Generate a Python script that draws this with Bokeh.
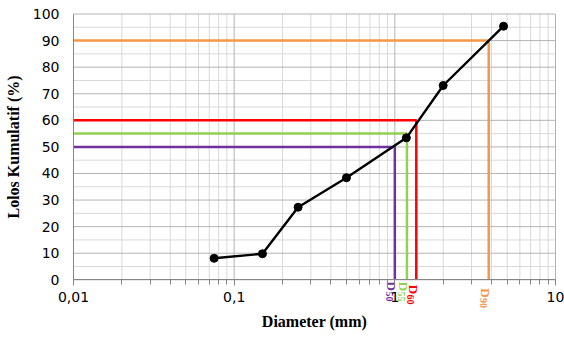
import math
from bokeh.plotting import figure
from bokeh.models import FixedTicker, Range1d
from bokeh.embed import file_html
from bokeh.resources import INLINE

# ---- data ----
diameter_mm = [0.075, 0.15, 0.25, 0.5, 1.18, 2.0, 4.75]
passing_pct = [8.1, 9.8, 27.3, 38.4, 53.4, 73.1, 95.4]

d_names = ["D", "D", "D", "D"]
d_subs = ["50", "55", "60", "90"]
d_pct = [50, 55, 60, 90]
d_mm = [1.0, 1.19, 1.36, 3.84]
d_colors = ["#7030A0", "#92D050", "#FF0000", "#F79646"]

x_ticks = [0.01, 0.1, 1, 10]
x_tick_labels = ["0,01", "0,1", "1", "10"]
y_ticks = list(range(0, 101, 10))

x_minor = [m * 10.0 ** e for e in (-2, -1, 0) for m in range(2, 10)]
y_minor = [v + 5 for v in range(0, 100, 10)]

# ---- layout (pixels) ----
W, H = 564, 340
PL, PR, PT, PB = 73, 555, 13.5, 279.3   # where the plot box corners sit

x_lo, x_hi = x_ticks[0], x_ticks[-1]
y_lo, y_hi = y_ticks[0], y_ticks[-1]
dec_px = (PR - PL) / (math.log10(x_hi) - math.log10(x_lo))
unit_px = (PB - PT) / (y_hi - y_lo)
x_start = 10 ** (math.log10(x_lo) - PL / dec_px)
x_end = 10 ** (math.log10(x_hi) + (W - PR) / dec_px)
y_end = y_hi + PT / unit_px
y_start = y_lo - (H - PB) / unit_px

# the frame spans the whole canvas, so text below the axis is not clipped
p = figure(width=W, height=H, x_axis_type="log",
           x_range=Range1d(x_start, x_end), y_range=Range1d(y_start, y_end),
           output_backend="svg", toolbar_location=None,
           min_border_left=0, min_border_right=0, min_border_top=0,
           min_border_bottom=0)
p.title.visible = False
p.background_fill_color = "white"
p.border_fill_color = "white"
p.outline_line_color = None
p.xgrid.visible = False
p.ygrid.visible = False

tick_font = "DejaVu Sans"

xa, ya = p.xaxis[0], p.yaxis[0]
xa.ticker = FixedTicker(ticks=x_ticks, minor_ticks=x_minor)
xa.major_label_overrides = {t: l for t, l in zip(x_ticks, x_tick_labels)}
ya.ticker = FixedTicker(ticks=y_ticks, minor_ticks=y_minor)
xa.fixed_location = y_lo
ya.fixed_location = x_lo
xa.bounds = (x_lo, x_hi)
ya.bounds = (y_lo, y_hi)

for ax in (xa, ya):
    ax.axis_line_color = "#868686"
    ax.major_tick_line_color = "#868686"
    ax.minor_tick_line_color = "#868686"
    ax.major_label_text_font = tick_font
    ax.major_label_text_font_size = "14px"
    ax.major_label_text_color = "black"
    ax.axis_label_text_font = "Liberation Serif"
    ax.axis_label_text_font_style = "bold"
    ax.axis_label_text_font_size = "16px"
    ax.axis_label_text_color = "black"

xa.major_tick_in = 0
xa.major_tick_out = 6
xa.minor_tick_in = 0
xa.minor_tick_out = 5
xa.major_label_standoff = 6
xa.axis_label = "Diameter (mm)"
xa.axis_label_standoff = 8

ya.major_tick_in = 0
ya.major_tick_out = 0
ya.minor_tick_in = 0
ya.minor_tick_out = 0
ya.major_label_standoff = 14
ya.axis_label = "Lolos Kumulatif (%)"
ya.axis_label_standoff = 8

# grid, limited to the plot box
minor_c, major_c = "#d9d9d9", "#b4b4b4"
p.segment(x0=x_minor, y0=[y_lo] * len(x_minor), x1=x_minor,
          y1=[y_hi] * len(x_minor), line_color=minor_c, line_width=1)
p.segment(x0=[x_lo] * len(y_minor), y0=y_minor, x1=[x_hi] * len(y_minor),
          y1=y_minor, line_color=minor_c, line_width=1)
p.segment(x0=x_ticks, y0=[y_lo] * len(x_ticks), x1=x_ticks,
          y1=[y_hi] * len(x_ticks), line_color=major_c, line_width=1)
p.segment(x0=[x_lo] * len(y_ticks), y0=y_ticks, x1=[x_hi] * len(y_ticks),
          y1=y_ticks, line_color=major_c, line_width=1)

# D lines
for dm, dp, c in zip(d_mm, d_pct, d_colors):
    p.line([x_lo, dm, dm], [dp, dp, y_lo], line_color=c, line_width=2.5)

# gradation curve
p.line(diameter_mm, passing_pct, line_color="black", line_width=2.4)
p.scatter(diameter_mm, passing_pct, size=8, color="black")

# D labels (rotated, below axis)
label_drop_px = [1.8, 2.0, 5.0, 8.4]
sub_gap_px = 9.8
d_y = [y_lo - d / unit_px for d in label_drop_px]
sub_y = [y_lo - (d + sub_gap_px) / unit_px for d in label_drop_px]
p.text(x=d_mm, y=d_y, text=d_names, angle=-math.pi / 2,
       text_align="left", text_baseline="middle", x_offset=-3,
       text_font="Liberation Serif", text_font_style="bold",
       text_font_size="13px", text_color=d_colors)
p.text(x=d_mm, y=sub_y, text=d_subs,
       angle=-math.pi / 2, text_align="left", text_baseline="middle",
       x_offset=-5.5, text_font="Liberation Serif", text_font_style="bold",
       text_font_size="10px", text_color=d_colors)

open("out.html", "w").write(file_html(p, INLINE))
